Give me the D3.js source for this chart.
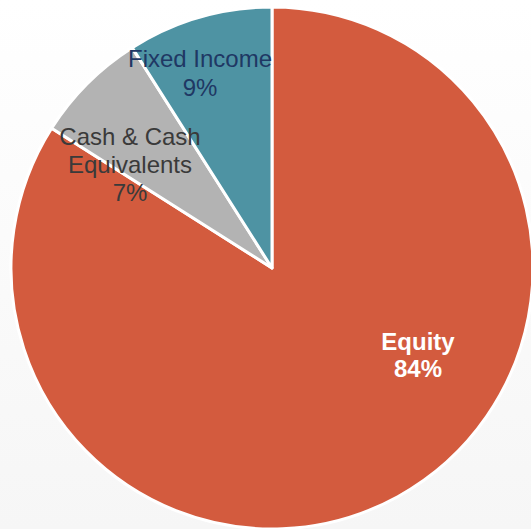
<!DOCTYPE html>
<html><head><meta charset="utf-8">
<script src="https://cdn.jsdelivr.net/npm/d3@7"></script>
<style>html,body{margin:0;padding:0;overflow:hidden;background:#fff}</style>
</head><body>
<script>
const categories = ["Equity", "Cash & Cash Equivalents", "Fixed Income"];
const values = [84, 7, 9];
const labelLines = [["Equity", "84%"], ["Cash & Cash", "Equivalents", "7%"], ["Fixed Income", "9%"]];
const colors = ["#D35B3E", "#B3B3B3", "#4E93A3"];
const labelColors = ["#FFFFFF", "#3A3A3A", "#1F3864"];
const labelWeights = ["bold", "normal", "normal"];

const W = 531, H = 529;
const svg = d3.select("body").append("svg").attr("width", W).attr("height", H);
const defs = svg.append("defs");
const grad = defs.append("linearGradient").attr("id", "bg").attr("x1", 0).attr("y1", 0).attr("x2", 0).attr("y2", 1);
grad.append("stop").attr("offset", "0%").attr("stop-color", "#FFFFFF");
grad.append("stop").attr("offset", "100%").attr("stop-color", "#F6F6F6");
svg.append("rect").attr("width", W).attr("height", H).attr("fill", "url(#bg)");

const cx = 272, cy = 268, R = 261;
const pie = d3.pie().sort(null).value(d => d)(values);
const arc = d3.arc().innerRadius(0).outerRadius(R);
const g = svg.append("g").attr("transform", `translate(${cx},${cy})`);
g.selectAll("path").data(pie).join("path")
  .attr("d", arc)
  .attr("fill", (d, i) => colors[i])
  .attr("stroke", "#fff").attr("stroke-width", 3).attr("stroke-linejoin", "round");

const labelPos = [[418, 350], [130, 145], [200, 67]];
const lineHeights = [27, 28, 29];
labelLines.forEach((lines, i) => {
  const t = svg.append("text")
    .attr("text-anchor", "middle")
    .attr("font-family", "'Liberation Sans', Arial, sans-serif")
    .attr("font-size", 24)
    .attr("font-weight", labelWeights[i])
    .attr("fill", labelColors[i]);
  lines.forEach((l, k) => {
    t.append("tspan").attr("x", labelPos[i][0]).attr("y", labelPos[i][1] + k * lineHeights[i]).text(l);
  });
});
</script>
</body></html>
